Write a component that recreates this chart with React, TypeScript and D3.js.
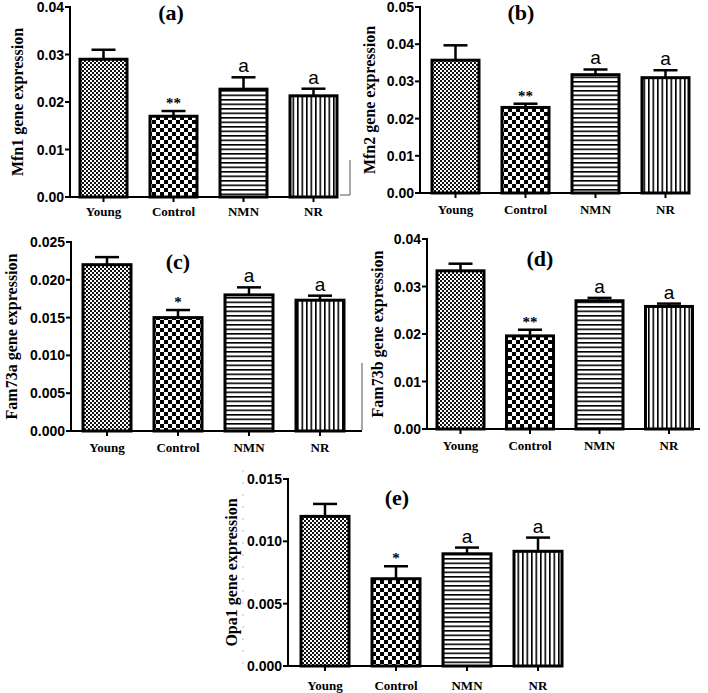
import React from "react";
import * as d3 from "d3";

const categories = ["Young", "Control", "NMN", "NR"];

const mfn1Values = [0.029, 0.017, 0.0227, 0.0213];
const mfn1Errors = [0.002, 0.0011, 0.0025, 0.0015];
const mfn1Marks = ["", "**", "a", "a"];

const mfn2Values = [0.0357, 0.023, 0.0318, 0.031];
const mfn2Errors = [0.004, 0.001, 0.0014, 0.002];
const mfn2Marks = ["", "**", "a", "a"];

const fam73aValues = [0.022, 0.015, 0.018, 0.0173];
const fam73aErrors = [0.001, 0.001, 0.001, 0.0006];
const fam73aMarks = ["", "*", "a", "a"];

const fam73bValues = [0.0333, 0.0196, 0.027, 0.0258];
const fam73bErrors = [0.0015, 0.0013, 0.0006, 0.0006];
const fam73bMarks = ["", "**", "a", "a"];

const opa1Values = [0.012, 0.007, 0.009, 0.0092];
const opa1Errors = [0.001, 0.001, 0.0005, 0.0011];
const opa1Marks = ["", "*", "a", "a"];

const ticksA = [0, 0.01, 0.02, 0.03, 0.04];
const ticksB = [0, 0.01, 0.02, 0.03, 0.04, 0.05];
const ticksC = [0, 0.005, 0.01, 0.015, 0.02, 0.025];
const ticksD = [0, 0.01, 0.02, 0.03, 0.04];
const ticksE = [0, 0.005, 0.01, 0.015];

const patterns = ["pYoung", "pControl", "pNMN", "pNR"];

type PanelProps = {
  label: string;
  title: string;
  values: number[];
  errors: number[];
  marks: string[];
  ticks: number[];
  digits: number;
  axisX: number;
  y0: number;
  yTop: number;
  barStart: number;
  step: number;
  bw: number;
  xEnd: number;
  labelX: number;
  labelY: number;
  titleX: number;
  catDy: number;
};

function Panel(p: PanelProps) {
  const yMax = p.ticks[p.ticks.length - 1];
  const y = d3.scaleLinear().domain([0, yMax]).range([p.y0, p.yTop]);
  const pad = (p.step - p.bw) / p.step;
  const x = d3
    .scaleBand<string>()
    .domain(categories)
    .range([p.barStart, p.barStart + 3 * p.step + p.bw])
    .paddingInner(pad)
    .paddingOuter(0);
  const fmt = d3.format(`.${p.digits}f`);
  const titleY = (p.y0 + p.yTop) / 2;
  const capW = 24;
  return (
    <g>
      {categories.map((c, i) => {
        const bx = x(c)!;
        const by = y(p.values[i]);
        const cx = bx + x.bandwidth() / 2;
        const ey = y(p.values[i] + p.errors[i]);
        const m = p.marks[i];
        return (
          <g key={c}>
            <line x1={cx} x2={cx} y1={by} y2={ey} stroke="#000" strokeWidth={2.5} />
            <line x1={cx - capW / 2} x2={cx + capW / 2} y1={ey} y2={ey} stroke="#000" strokeWidth={2.5} />
            <rect
              x={bx}
              y={by}
              width={x.bandwidth()}
              height={p.y0 - by}
              fill={`url(#${patterns[i]})`}
              stroke="#000"
              strokeWidth={3}
            />
            {m === "a" && (
              <text
                x={cx}
                y={ey - 5}
                textAnchor="middle"
                fontFamily="Liberation Sans, Arial, sans-serif"
                fontSize={19}
              >
                a
              </text>
            )}
            {m.startsWith("*") && (
              <text
                x={cx}
                y={ey - 3}
                textAnchor="middle"
                fontFamily="Liberation Serif, Times New Roman, serif"
                fontWeight="bold"
                fontSize={15}
              >
                {m}
              </text>
            )}
            <line x1={cx} x2={cx} y1={p.y0} y2={p.y0 + 5} stroke="#000" strokeWidth={2} />
            <text
              x={cx}
              y={p.y0 + p.catDy}
              textAnchor="middle"
              fontFamily="Liberation Serif, Times New Roman, serif"
              fontWeight="bold"
              fontSize={13}
            >
              {c}
            </text>
          </g>
        );
      })}
      <line x1={p.axisX} x2={p.axisX} y1={p.yTop - 1} y2={p.y0 + 1} stroke="#000" strokeWidth={2} />
      <line x1={p.axisX - 1} x2={p.xEnd} y1={p.y0} y2={p.y0} stroke="#000" strokeWidth={2} />
      {p.ticks.map((t) => (
        <g key={t}>
          <line x1={p.axisX - 5} x2={p.axisX} y1={y(t)} y2={y(t)} stroke="#000" strokeWidth={2} />
          <text
            x={p.axisX - 6}
            y={y(t)}
            dy="0.36em"
            textAnchor="end"
            fontFamily="Liberation Sans, Arial, sans-serif"
            fontWeight="bold"
            fontSize={14}
          >
            {fmt(t)}
          </text>
        </g>
      ))}
      <text
        transform={`translate(${p.titleX},${titleY}) rotate(-90)`}
        textAnchor="middle"
        dy="0.35em"
        fontFamily="Liberation Serif, Times New Roman, serif"
        fontWeight="bold"
        fontSize={16}
      >
        {p.title}
      </text>
      <text
        x={p.labelX}
        y={p.labelY}
        textAnchor="middle"
        fontFamily="Liberation Serif, Times New Roman, serif"
        fontWeight="bold"
        fontSize={22}
      >
        {p.label}
      </text>
    </g>
  );
}

export default function App() {
  return (
    <svg
      width={708}
      height={693}
      style={{ position: "absolute", left: 0, top: 0, background: "#fff" }}
    >
      <defs>
        <pattern id="pYoung" patternUnits="userSpaceOnUse" width={4} height={4}>
          <rect width={4} height={4} fill="#fff" />
          <rect width={2} height={2} fill="#111" />
          <rect x={2} y={2} width={2} height={2} fill="#111" />
        </pattern>
        <pattern id="pControl" patternUnits="userSpaceOnUse" width={8} height={8}>
          <rect width={8} height={8} fill="#fff" />
          <rect width={4} height={4} fill="#000" />
          <rect x={4} y={4} width={4} height={4} fill="#000" />
        </pattern>
        <pattern id="pNMN" patternUnits="userSpaceOnUse" width={4} height={4.5}>
          <rect width={4} height={4.5} fill="#fff" />
          <rect width={4} height={1.6} fill="#000" />
        </pattern>
        <pattern id="pNR" patternUnits="userSpaceOnUse" width={4.5} height={4}>
          <rect width={4.5} height={4} fill="#fff" />
          <rect width={1.6} height={4} fill="#000" />
        </pattern>
      </defs>
      <rect width={708} height={693} fill="#fff" />
      <Panel
        label="(a)"
        title="Mfn1 gene expression"
        values={mfn1Values}
        errors={mfn1Errors}
        marks={mfn1Marks}
        ticks={ticksA}
        digits={2}
        axisX={70}
        y0={197}
        yTop={7}
        barStart={80}
        step={70}
        bw={47}
        xEnd={338}
        labelX={171}
        labelY={20}
        titleX={17}
        catDy={19}
      />
      <Panel
        label="(b)"
        title="Mfn2 gene expression"
        values={mfn2Values}
        errors={mfn2Errors}
        marks={mfn2Marks}
        ticks={ticksB}
        digits={2}
        axisX={420}
        y0={193}
        yTop={7}
        barStart={432}
        step={70}
        bw={47}
        xEnd={690}
        labelX={521}
        labelY={20}
        titleX={369}
        catDy={21}
      />
      <Panel
        label="(c)"
        title="Fam73a gene expression"
        values={fam73aValues}
        errors={fam73aErrors}
        marks={fam73aMarks}
        ticks={ticksC}
        digits={3}
        axisX={71}
        y0={431}
        yTop={242}
        barStart={83}
        step={71}
        bw={48}
        xEnd={362}
        labelX={178}
        labelY={269}
        titleX={11}
        catDy={21}
      />
      <Panel
        label="(d)"
        title="Fam73b gene expression"
        values={fam73bValues}
        errors={fam73bErrors}
        marks={fam73bMarks}
        ticks={ticksD}
        digits={2}
        axisX={427}
        y0={429}
        yTop={239}
        barStart={437}
        step={69.5}
        bw={47}
        xEnd={700}
        labelX={540}
        labelY={266}
        titleX={377}
        catDy={21}
      />
      <Panel
        label="(e)"
        title="Opa1 gene expression"
        values={opa1Values}
        errors={opa1Errors}
        marks={opa1Marks}
        ticks={ticksE}
        digits={3}
        axisX={288}
        y0={666}
        yTop={479}
        barStart={301}
        step={71}
        bw={48}
        xEnd={562}
        labelX={397}
        labelY={505}
        titleX={231}
        catDy={24}
      />
      <line x1={350} x2={350} y1={160} y2={195} stroke="#555" strokeWidth={1} />
      <line x1={340} x2={350} y1={195} y2={195} stroke="#555" strokeWidth={1} />
      <line x1={362} x2={362} y1={363} y2={430} stroke="#555" strokeWidth={1} />
      <line x1={243} x2={243} y1={470} y2={670} stroke="#bbb" strokeWidth={1} strokeDasharray="2 10" />
    </svg>
  );
}
